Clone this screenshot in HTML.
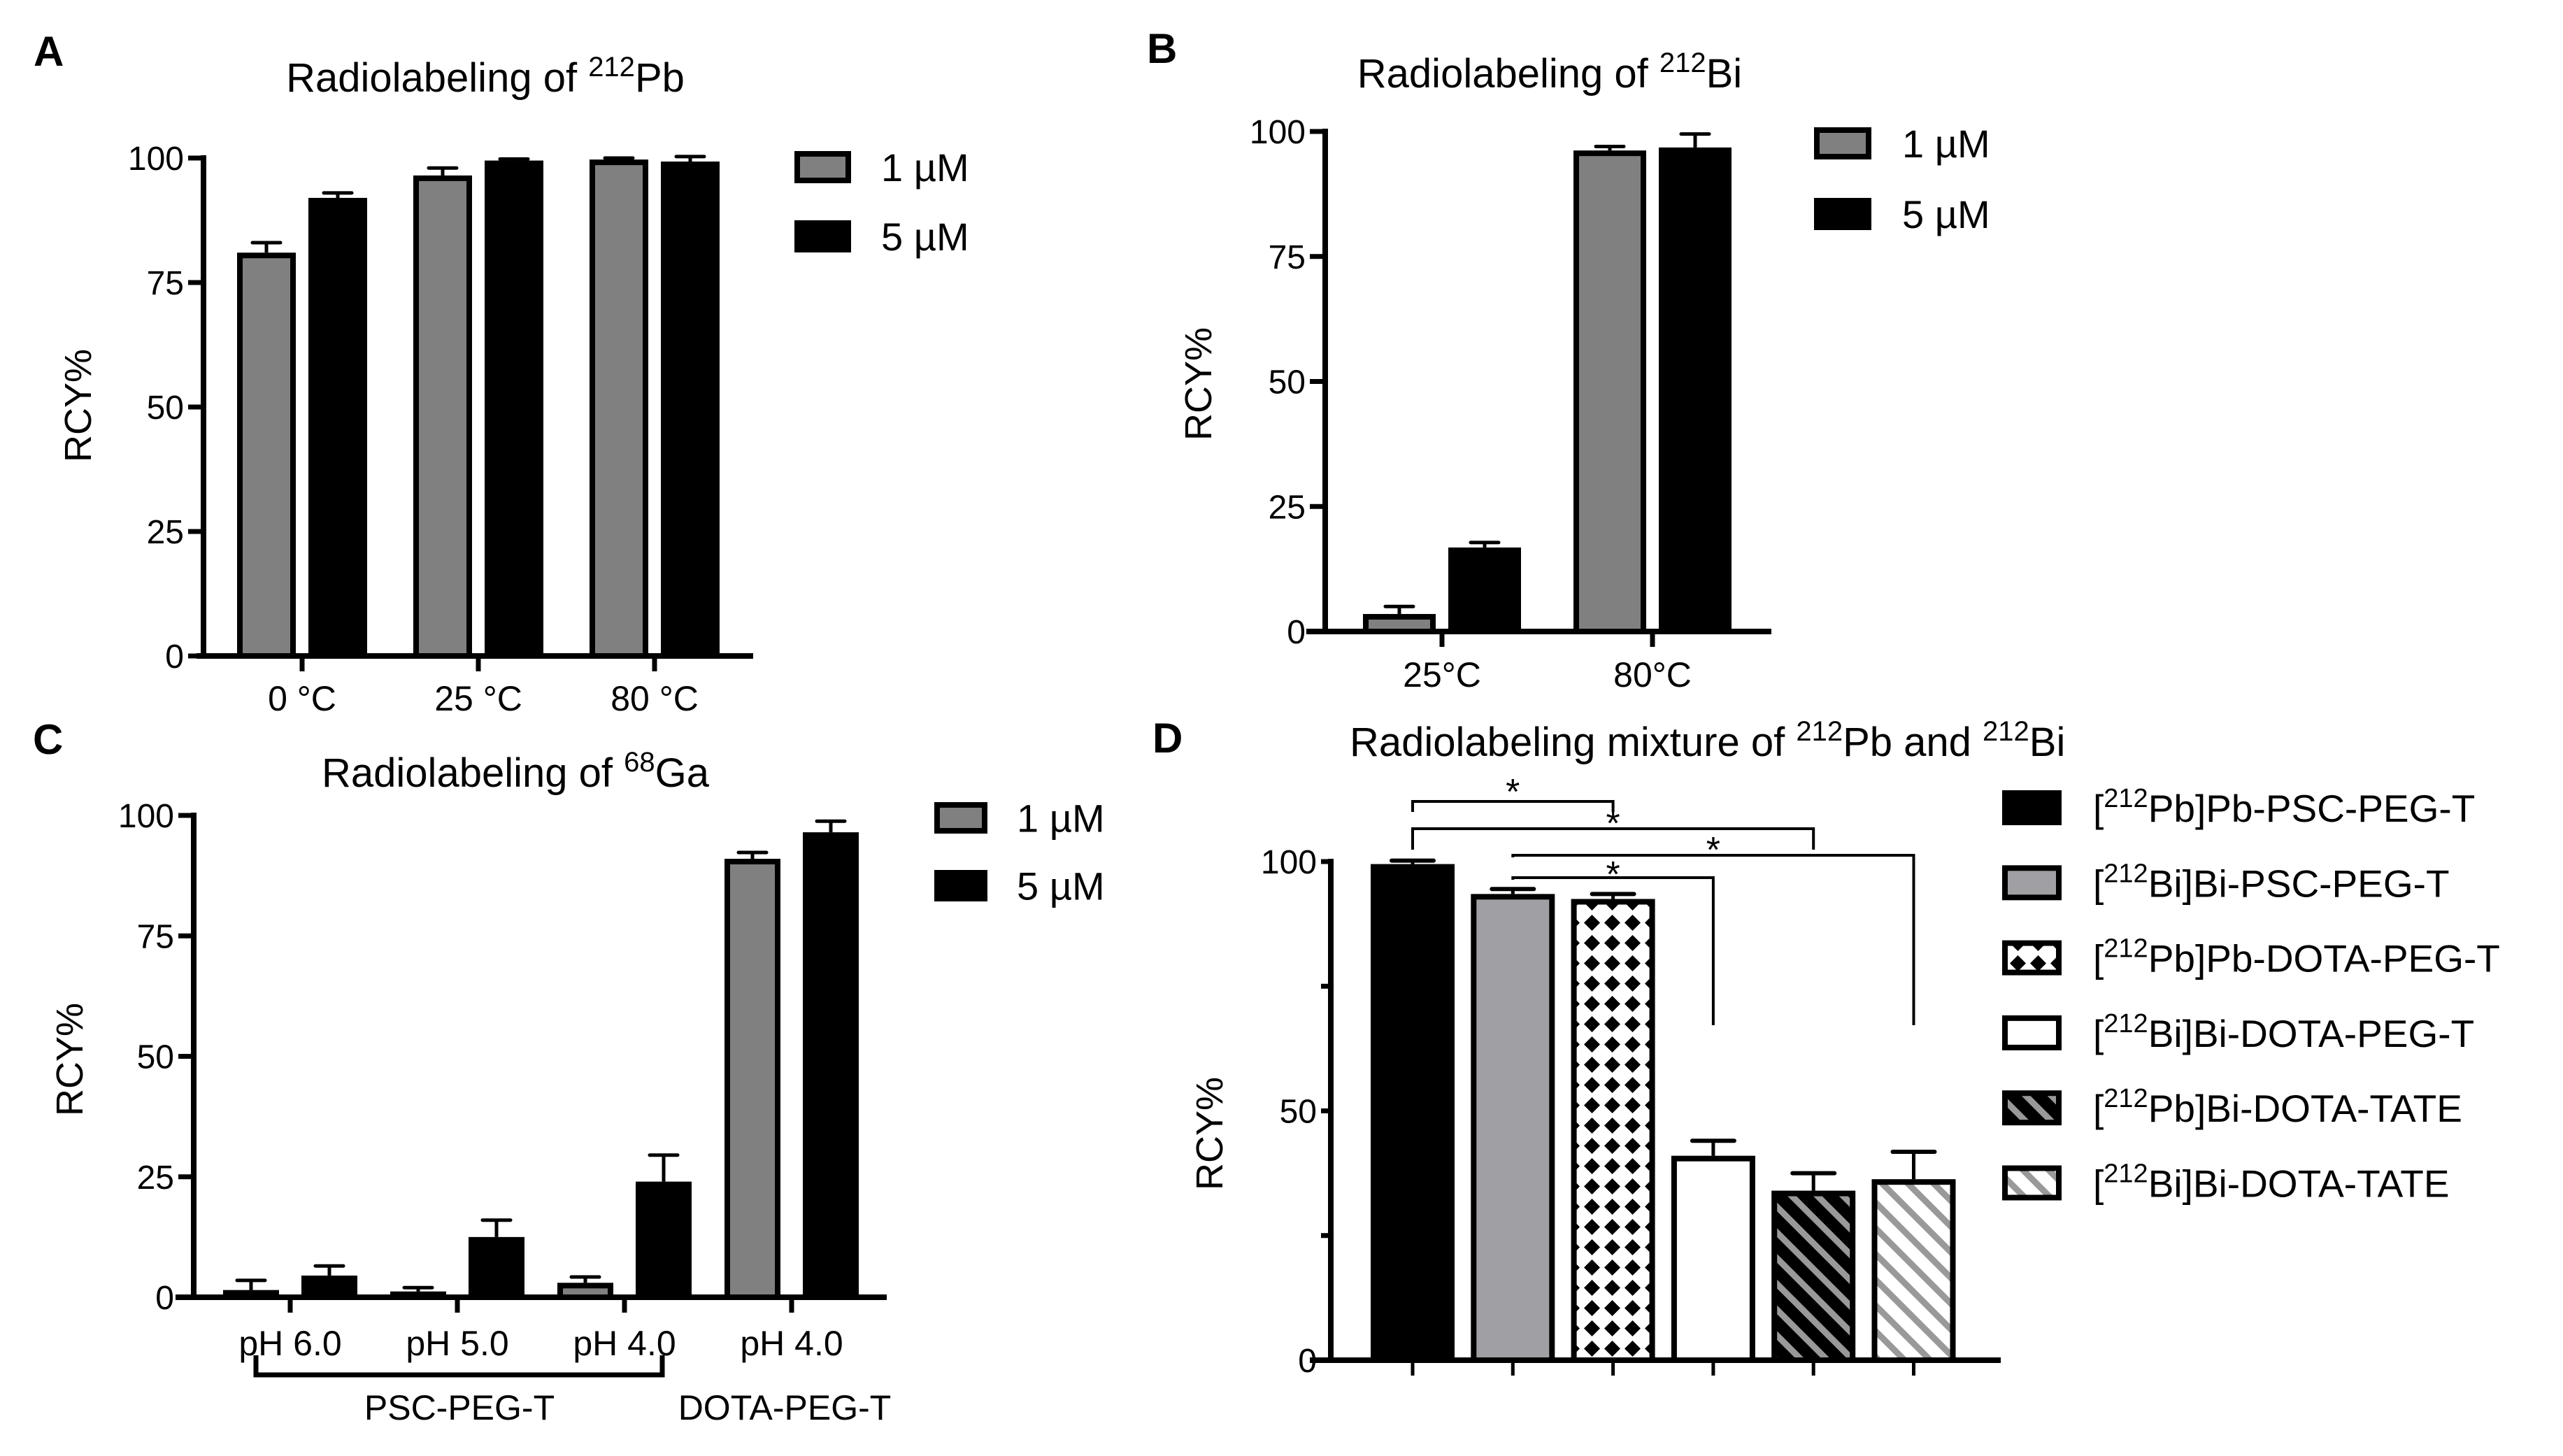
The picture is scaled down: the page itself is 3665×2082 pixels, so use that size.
<!DOCTYPE html>
<html><head><meta charset="utf-8"><style>
html,body{margin:0;padding:0;background:#fff;}
svg{display:block;font-family:"Liberation Sans",Arial,sans-serif;}
</style></head><body>
<svg id="fig" width="3665" height="2082" viewBox="0 0 3665 2082">
<defs>
<pattern id="pat-cross" patternUnits="userSpaceOnUse" width="29" height="29">
<rect width="29" height="29" fill="#fff"/>
<polygon points="14.5,3 26,14.5 14.5,26 3,14.5" fill="#000"/>
</pattern>
<pattern id="pat-dark" patternUnits="userSpaceOnUse" width="26" height="26" patternTransform="rotate(-45)">
<rect width="26" height="26" fill="#000"/><rect x="0" y="0" width="9" height="26" fill="#999"/>
</pattern>
<pattern id="pat-light" patternUnits="userSpaceOnUse" width="26" height="26" patternTransform="rotate(-45)">
<rect width="26" height="26" fill="#fff"/><rect x="0" y="0" width="9" height="26" fill="#999"/>
</pattern>
</defs>
</svg>
<script>
// Panel A data
const aCategories = ["0 °C","25 °C","80 °C"];
const aSeries1 = [81, 96.5, 99.7];
const aErr1 = [83, 98, 100];
const aSeries5 = [92, 99.5, 99.3];
const aErr5 = [93, 99.8, 100.3];
const aTicks = [0,25,50,75,100];
// Panel B data
const bCategories = ["25°C","80°C"];
const bSeries1 = [3.5, 96.2];
const bErr1 = [5, 97];
const bSeries5 = [16.8, 96.8];
const bErr5 = [17.8, 99.5];
const bTicks = [0,25,50,75,100];
// Panel C data
const cCategories = ["pH 6.0","pH 5.0","pH 4.0","pH 4.0"];
const cSeries1 = [1.5, 1.2, 3, 91];
const cErr1 = [3.5, 2, 4.2, 92.3];
const cSeries5 = [4.5, 12.5, 24, 96.5];
const cErr5 = [6.5, 16, 29.5, 98.8];
const cTicks = [0,25,50,75,100];
// Panel D data
const dCategories = ["[212Pb]Pb-PSC-PEG-T","[212Bi]Bi-PSC-PEG-T","[212Pb]Pb-DOTA-PEG-T","[212Bi]Bi-DOTA-PEG-T","[212Pb]Bi-DOTA-TATE","[212Bi]Bi-DOTA-TATE"];
const dValues = [99.5, 93.5, 92.5, 41, 34, 36.3];
const dErrors = [100.2, 94.5, 93.5, 44, 37.5, 41.8];
const dTicks = [0,25,50,75,100];
const dTickLabels = ["0","","50","","100"];

const svg = document.getElementById('fig');
const NS = 'http://www.w3.org/2000/svg';
function mk(tag, attrs, parent){const e=document.createElementNS(NS,tag);for(const k in attrs)e.setAttribute(k,attrs[k]);(parent||svg).appendChild(e);return e;}
function line(x1,y1,x2,y2,w,parent,cap){return mk('line',{x1,y1,x2,y2,stroke:'#000','stroke-width':w,'stroke-linecap':cap||'butt'},parent);}
function txt(x,y,s,size,anchor,parent,extra){const t=mk('text',Object.assign({x,y,'font-size':size,'text-anchor':anchor||'middle',fill:'#000'},extra||{}),parent);t.innerHTML=s;return t;}

function legend2(g,x,y1,y2,w,h,tx,fs){
  const l1=mk('g',{},g);
  
  
  mk('rect',{x:x+4,y:y1+4,width:w-8,height:h-8,fill:'#808080',stroke:'#000','stroke-width':8},l1);
  txt(tx,y1+h/2+fs*0.36,'1 µM',fs,'start',l1);
  const l2=mk('g',{},g);
  
  
  mk('rect',{x:x,y:y2,width:w,height:h,fill:'#000'},l2);
  txt(tx,y2+h/2+fs*0.36,'5 µM',fs,'start',l2);
}

function groupedPanel(opt){
  const g=mk('g',{});
  
  
  const yS=v=>opt.y0+(opt.y100-opt.y0)*v/100;
  const ya=line(opt.ax,opt.y100-4,opt.ax,opt.y0+4,8,g);
  
  
  const xa=line(opt.xl,opt.y0,opt.xr,opt.y0,8,g);
  
  
  opt.ticks.forEach(t=>{
    line(opt.ax-22,yS(t),opt.ax,yS(t),7,g);
    const tl=txt(opt.ax-28,yS(t)+17,String(t),48,'end',g);
    
    
  });
  opt.cats.forEach((c,i)=>{
    const cx=opt.c0+i*opt.step;
    line(cx,opt.y0,cx,opt.y0+22,7,g);
    const xl=txt(cx,opt.labelY,c,50,'middle',g);
    
    
    [[opt.s1,opt.e1,'#808080',-1],[opt.s5,opt.e5,'#000',1]].forEach(([s,e,fill,side])=>{
      const bx=cx+side*opt.off-opt.bw/2;
      const top=yS(s[i]);
      const et=yS(e[i]);
      line(bx+opt.bw/2,top,bx+opt.bw/2,et,5,g);
      line(bx+opt.bw/2-20,et,bx+opt.bw/2+20,et,5,g,'round');
      const r=mk('rect',{x:bx+4,y:top+4,width:opt.bw-8,height:Math.max(opt.y0-top-4,0),fill:fill,stroke:'#000','stroke-width':8},g);
      
      
    });
  });
  return {g,yS};
}

const SUP='<tspan baseline-shift="super" font-size="40">';

// Panel A
(function(){
  const p=groupedPanel({name:'panel-a',ax:291,y100:226,y0:938,xl:281,xr:1077,c0:432,step:252,off:51,bw:84,
    cats:aCategories,s1:aSeries1,e1:aErr1,s5:aSeries5,e5:aErr5,ticks:aTicks,labelY:1016});
  const t=txt(694,131,'Radiolabeling of '+SUP+'212</tspan>Pb',58,'middle',p.g);
  
  
  const yl=txt(0,0,'RCY%',54,'middle',p.g,{transform:'translate(130,580) rotate(-90)'});
  
  
  const pl=txt(48,94,'A',60,'start',p.g,{'font-weight':'bold'});
  
  
  legend2(p.g,1136,216,315,81,46,1260,56);
})();

// Panel B
(function(){
  const p=groupedPanel({name:'panel-b',ax:1895,y100:188,y0:903,xl:1868,xr:2533,c0:2062,step:301,off:61,bw:104,
    cats:bCategories,s1:bSeries1,e1:bErr1,s5:bSeries5,e5:bErr5,ticks:bTicks,labelY:982});
  const t=txt(2216,125,'Radiolabeling of '+SUP+'212</tspan>Bi',58,'middle',p.g);
  
  
  const yl=txt(0,0,'RCY%',54,'middle',p.g,{transform:'translate(1732,549) rotate(-90)'});
  
  
  const pl=txt(1640,90,'B',60,'start',p.g,{'font-weight':'bold'});
  
  
  legend2(p.g,2594,182,283,82,46,2720,56);
})();

// Panel C
(function(){
  const p=groupedPanel({name:'panel-c',ax:277,y100:1166,y0:1855,xl:251,xr:1268,c0:415,step:239,off:56,bw:80,
    cats:cCategories,s1:cSeries1,e1:cErr1,s5:cSeries5,e5:cErr5,ticks:cTicks,labelY:1938});
  const t=txt(737,1125,'Radiolabeling of '+SUP+'68</tspan>Ga',58,'middle',p.g);
  
  
  const yl=txt(0,0,'RCY%',54,'middle',p.g,{transform:'translate(118,1515) rotate(-90)'});
  
  
  const pl=txt(47,1078,'C',60,'start',p.g,{'font-weight':'bold'});
  
  
  const br=mk('path',{d:'M366,1938 L366,1966 L947,1966 L947,1938',fill:'none',stroke:'#000','stroke-width':7},p.g);
  
  
  const g1=txt(657,2030,'PSC-PEG-T',50,'middle',p.g);
  
  
  const g2=txt(1122,2030,'DOTA-PEG-T',50,'middle',p.g);
  
  
  legend2(p.g,1336,1147,1244,76,45,1454,56);
})();

// Panel D
(function(){
  const g=mk('g',{});
  
  
  const ax=1903,y100=1232,y0=1945,c0=2020,step=143.3,bw=120;
  const yS=v=>y0+(y100-y0)*v/100;
  const xS=i=>c0+i*step;
  const fills=['#000','#a0a0a4','url(#pat-cross)','#fff','url(#pat-dark)','url(#pat-light)'];
  const ya=line(ax,y100-4,ax,y0+4,8,g);
  
  
  const xa=line(1873,y0,2861,y0,8,g);
  
  
  dTicks.forEach((t,i)=>{
    line(ax-14,yS(t),ax,yS(t),7,g);
    if(dTickLabels[i]){
      const tl=txt(ax-20,yS(t)+17,dTickLabels[i],48,'end',g);
      
      
    }
  });
  dValues.forEach((v,i)=>{
    const cx=xS(i);
    line(cx,y0,cx,y0+22,5,g);
    const top=yS(v), et=yS(dErrors[i]);
    line(cx,top,cx,et,5,g);
    line(cx-30,et,cx+30,et,6,g,'round');
    const r=mk('rect',{x:cx-bw/2+4,y:top+4,width:bw-8,height:y0-top-4,fill:fills[i],stroke:'#000','stroke-width':i===0?0:8},g);
    if(i===0){r.setAttribute('x',cx-bw/2);r.setAttribute('y',top);r.setAttribute('width',bw);r.setAttribute('height',y0-top);}
    
    
  });
  const sig=[[0,2,1146,1161,1161,1124],[0,4,1185,1215,1215,1169],[1,5,1223,1226,1466,1207],[1,3,1255,1258,1466,1242]];
  sig.forEach(s=>{
    const x1=xS(s[0]),x2=xS(s[1]);
    const p=mk('path',{d:`M${x1},${s[3]} L${x1},${s[2]} L${x2},${s[2]} L${x2},${s[4]}`,fill:'none',stroke:'#000','stroke-width':4},g);
    
    
    const st=txt((x1+x2)/2,s[5]+26,'*',52,'middle',g);
    
    
  });
  const t=txt(1930,1081,'Radiolabeling mixture of  '+SUP+'212</tspan>Pb and '+SUP+'212</tspan>Bi',58,'start',g);
  
  
  const yl=txt(0,0,'RCY%',54,'middle',g,{transform:'translate(1748,1621) rotate(-90)'});
  
  
  const pl=txt(1648,1076,'D',60,'start',g,{'font-weight':'bold'});
  
  
  dCategories.forEach((c,i)=>{
    const cy=1155+i*107.3;
    const le=mk('g',{},g);
    
    
    if(i===0) mk('rect',{x:2863,y:cy-25,width:85,height:50,fill:'#000'},le);
    else mk('rect',{x:2867,y:cy-21,width:77,height:42,fill:fills[i],stroke:'#000','stroke-width':8},le);
    const m=c.match(/^\[(\d+)(.*)$/);
    txt(2993,cy+20,'[<tspan baseline-shift="super" font-size="38">'+m[1]+'</tspan>'+m[2],55,'start',le);
  });
})();
</script>
</body></html>
